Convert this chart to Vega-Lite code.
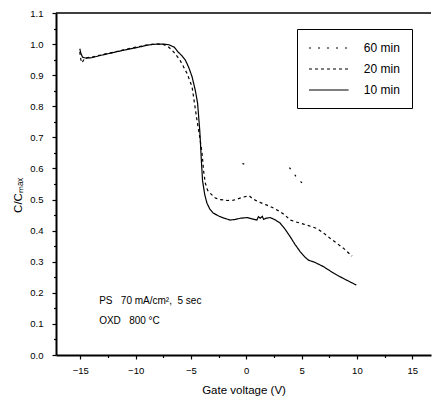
{
  "$schema": "https://vega.github.io/schema/vega-lite/v6.json",
  "width": 375,
  "height": 342,
  "autosize": {"type": "none"},
  "padding": {"left": 56, "top": 13, "right": 1, "bottom": 46},
  "background": "white",
  "config": {
    "view": {"stroke": null},
    "font": "Liberation Sans",
    "axis": {
      "domainColor": "black", "domainWidth": 2, "tickColor": "black", "tickWidth": 1.2,
      "labelColor": "black", "titleColor": "black", "labelFont": "Liberation Sans", "titleFont": "Liberation Sans",
      "labelFontSize": 9.5, "titleFontSize": 11.5, "titleFontWeight": "normal", "grid": false, "labelOverlap": false
    }
  },
  "resolve": {"axis": {"x": "independent", "y": "independent"}},
  "datasets": {
    "curves": [
      {"series": "10 min", "seg": "a", "V": -15.05, "C": 0.985},
      {"series": "10 min", "seg": "a", "V": -14.95, "C": 0.97},
      {"series": "10 min", "seg": "a", "V": -14.8, "C": 0.958},
      {"series": "10 min", "seg": "a", "V": -14.5, "C": 0.955},
      {"series": "10 min", "seg": "a", "V": -14.0, "C": 0.956},
      {"series": "10 min", "seg": "a", "V": -13.0, "C": 0.965},
      {"series": "10 min", "seg": "a", "V": -12.0, "C": 0.973},
      {"series": "10 min", "seg": "a", "V": -11.0, "C": 0.981},
      {"series": "10 min", "seg": "a", "V": -10.0, "C": 0.988},
      {"series": "10 min", "seg": "a", "V": -9.0, "C": 0.996},
      {"series": "10 min", "seg": "a", "V": -8.5, "C": 0.999},
      {"series": "10 min", "seg": "a", "V": -8.0, "C": 1.0},
      {"series": "10 min", "seg": "a", "V": -7.5, "C": 1.0},
      {"series": "10 min", "seg": "a", "V": -7.0, "C": 0.998},
      {"series": "10 min", "seg": "a", "V": -6.5, "C": 0.99},
      {"series": "10 min", "seg": "a", "V": -6.2, "C": 0.976},
      {"series": "10 min", "seg": "a", "V": -5.8, "C": 0.962},
      {"series": "10 min", "seg": "a", "V": -5.5, "C": 0.948},
      {"series": "10 min", "seg": "a", "V": -5.2, "C": 0.925},
      {"series": "10 min", "seg": "a", "V": -4.9, "C": 0.895},
      {"series": "10 min", "seg": "a", "V": -4.6, "C": 0.85},
      {"series": "10 min", "seg": "a", "V": -4.4, "C": 0.81},
      {"series": "10 min", "seg": "a", "V": -4.2, "C": 0.72},
      {"series": "10 min", "seg": "a", "V": -4.05, "C": 0.62},
      {"series": "10 min", "seg": "a", "V": -3.95, "C": 0.56},
      {"series": "10 min", "seg": "a", "V": -3.75, "C": 0.515},
      {"series": "10 min", "seg": "a", "V": -3.55, "C": 0.488},
      {"series": "10 min", "seg": "a", "V": -3.3, "C": 0.47},
      {"series": "10 min", "seg": "a", "V": -3.0, "C": 0.457},
      {"series": "10 min", "seg": "a", "V": -2.5, "C": 0.447},
      {"series": "10 min", "seg": "a", "V": -2.0, "C": 0.44},
      {"series": "10 min", "seg": "a", "V": -1.45, "C": 0.434},
      {"series": "10 min", "seg": "a", "V": -1.0, "C": 0.436},
      {"series": "10 min", "seg": "a", "V": -0.5, "C": 0.44},
      {"series": "10 min", "seg": "a", "V": 0.06, "C": 0.442},
      {"series": "10 min", "seg": "a", "V": 0.5, "C": 0.438},
      {"series": "10 min", "seg": "a", "V": 0.96, "C": 0.434},
      {"series": "10 min", "seg": "a", "V": 1.1, "C": 0.445},
      {"series": "10 min", "seg": "a", "V": 1.27, "C": 0.44},
      {"series": "10 min", "seg": "a", "V": 1.45, "C": 0.446},
      {"series": "10 min", "seg": "a", "V": 1.57, "C": 0.436},
      {"series": "10 min", "seg": "a", "V": 1.8, "C": 0.44},
      {"series": "10 min", "seg": "a", "V": 2.17, "C": 0.442},
      {"series": "10 min", "seg": "a", "V": 2.6, "C": 0.435},
      {"series": "10 min", "seg": "a", "V": 3.07, "C": 0.424},
      {"series": "10 min", "seg": "a", "V": 3.5, "C": 0.405},
      {"series": "10 min", "seg": "a", "V": 3.98, "C": 0.38},
      {"series": "10 min", "seg": "a", "V": 4.4, "C": 0.356},
      {"series": "10 min", "seg": "a", "V": 4.88, "C": 0.332},
      {"series": "10 min", "seg": "a", "V": 5.3, "C": 0.315},
      {"series": "10 min", "seg": "a", "V": 5.63, "C": 0.305},
      {"series": "10 min", "seg": "a", "V": 6.2, "C": 0.298},
      {"series": "10 min", "seg": "a", "V": 6.99, "C": 0.284},
      {"series": "10 min", "seg": "a", "V": 7.6, "C": 0.27},
      {"series": "10 min", "seg": "a", "V": 8.2, "C": 0.257},
      {"series": "10 min", "seg": "a", "V": 9.0, "C": 0.242},
      {"series": "10 min", "seg": "a", "V": 9.95, "C": 0.225},
      {"series": "20 min", "seg": "a", "V": -15.05, "C": 0.975},
      {"series": "20 min", "seg": "a", "V": -14.95, "C": 0.95},
      {"series": "20 min", "seg": "a", "V": -14.85, "C": 0.94},
      {"series": "20 min", "seg": "a", "V": -14.6, "C": 0.955},
      {"series": "20 min", "seg": "a", "V": -14.0, "C": 0.958},
      {"series": "20 min", "seg": "a", "V": -13.0, "C": 0.966},
      {"series": "20 min", "seg": "a", "V": -12.0, "C": 0.974},
      {"series": "20 min", "seg": "a", "V": -11.0, "C": 0.982},
      {"series": "20 min", "seg": "a", "V": -10.0, "C": 0.99},
      {"series": "20 min", "seg": "a", "V": -9.0, "C": 0.997},
      {"series": "20 min", "seg": "a", "V": -8.5, "C": 0.999},
      {"series": "20 min", "seg": "a", "V": -8.0, "C": 1.0},
      {"series": "20 min", "seg": "a", "V": -7.5, "C": 0.999},
      {"series": "20 min", "seg": "a", "V": -7.0, "C": 0.99},
      {"series": "20 min", "seg": "a", "V": -6.57, "C": 0.975},
      {"series": "20 min", "seg": "a", "V": -6.0, "C": 0.949},
      {"series": "20 min", "seg": "a", "V": -5.36, "C": 0.906},
      {"series": "20 min", "seg": "a", "V": -4.9, "C": 0.863},
      {"series": "20 min", "seg": "a", "V": -4.46, "C": 0.756},
      {"series": "20 min", "seg": "a", "V": -4.2, "C": 0.7},
      {"series": "20 min", "seg": "a", "V": -4.0, "C": 0.65},
      {"series": "20 min", "seg": "a", "V": -3.85, "C": 0.59},
      {"series": "20 min", "seg": "a", "V": -3.7, "C": 0.553},
      {"series": "20 min", "seg": "a", "V": -3.5, "C": 0.53},
      {"series": "20 min", "seg": "a", "V": -3.25, "C": 0.52},
      {"series": "20 min", "seg": "a", "V": -2.8, "C": 0.505},
      {"series": "20 min", "seg": "a", "V": -2.35, "C": 0.5},
      {"series": "20 min", "seg": "a", "V": -1.7, "C": 0.497},
      {"series": "20 min", "seg": "a", "V": -1.15, "C": 0.498},
      {"series": "20 min", "seg": "a", "V": -0.7, "C": 0.503},
      {"series": "20 min", "seg": "a", "V": -0.27, "C": 0.508},
      {"series": "20 min", "seg": "a", "V": 0.27, "C": 0.512},
      {"series": "20 min", "seg": "a", "V": 0.5, "C": 0.505},
      {"series": "20 min", "seg": "a", "V": 0.81, "C": 0.498},
      {"series": "20 min", "seg": "a", "V": 1.3, "C": 0.49},
      {"series": "20 min", "seg": "a", "V": 1.87, "C": 0.482},
      {"series": "20 min", "seg": "a", "V": 2.5, "C": 0.472},
      {"series": "20 min", "seg": "a", "V": 3.07, "C": 0.461},
      {"series": "20 min", "seg": "a", "V": 3.5, "C": 0.45},
      {"series": "20 min", "seg": "a", "V": 3.98, "C": 0.434},
      {"series": "20 min", "seg": "a", "V": 4.5, "C": 0.428},
      {"series": "20 min", "seg": "a", "V": 5.18, "C": 0.421},
      {"series": "20 min", "seg": "a", "V": 5.8, "C": 0.414},
      {"series": "20 min", "seg": "a", "V": 6.39, "C": 0.407},
      {"series": "20 min", "seg": "a", "V": 7.0, "C": 0.392},
      {"series": "20 min", "seg": "a", "V": 7.6, "C": 0.375},
      {"series": "20 min", "seg": "a", "V": 8.2, "C": 0.359},
      {"series": "20 min", "seg": "a", "V": 8.8, "C": 0.343},
      {"series": "20 min", "seg": "a", "V": 9.56, "C": 0.318},
      {"series": "60 min", "seg": "a", "V": -0.35, "C": 0.616},
      {"series": "60 min", "seg": "a", "V": 0.05, "C": 0.611},
      {"series": "60 min", "seg": "b", "V": 3.9, "C": 0.603},
      {"series": "60 min", "seg": "b", "V": 4.3, "C": 0.585},
      {"series": "60 min", "seg": "b", "V": 4.6, "C": 0.568},
      {"series": "60 min", "seg": "b", "V": 5.3, "C": 0.545}
    ],
    "notes": [
      {"V": -13.3, "C": 0.175, "label": "PS\u00a0\u00a0\u00a070 mA/cm², \u00a05 sec"},
      {"V": -13.3, "C": 0.11, "label": "OXD\u00a0\u00a0\u00a0800 °C"}
    ],
    "frame": [{"V": 0, "C": 1.1}]
  },
  "layer": [
    {
      "data": {"name": "curves"},
      "mark": {"type": "line", "color": "black", "strokeWidth": 1.2, "clip": true},
      "encoding": {
        "x": {
          "field": "V", "type": "quantitative",
          "scale": {"domain": [-17.2, 16.7], "nice": false, "zero": false},
          "axis": {
            "title": "Gate voltage (V)",
            "values": [-15, -10, -5, 0, 5, 10, 15],
            "tickSize": 4, "labelPadding": 6, "titlePadding": 10
          }
        },
        "y": {
          "field": "C", "type": "quantitative",
          "scale": {"domain": [0, 1.1], "nice": false},
          "axis": {
            "title": "C/Cₘₐₓ",
            "values": [0, 0.1, 0.2, 0.3, 0.4, 0.5, 0.6, 0.7, 0.8, 0.9, 1.0, 1.1],
            "format": ".1f", "tickSize": 4,
            "labelPadding": 9, "titleX": -33, "titleY": 182
          }
        },
        "strokeDash": {
          "field": "series", "type": "nominal",
          "scale": {"domain": ["60 min", "20 min", "10 min"], "range": [[2, 7], [3, 3], [1, 0]]},
          "legend": {
            "title": null, "orient": "none", "legendX": 241, "legendY": 16,
            "symbolType": "M-3.3,0H3.3", "symbolSize": 144, "symbolStrokeColor": "black", "symbolStrokeWidth": 1.2,
            "symbolOffset": 12.8, "labelOffset": 28,
            "labelFontSize": 12, "labelColor": "black", "labelFont": "Liberation Sans",
            "strokeColor": "black", "padding": 12, "rowPadding": 8
          }
        },
        "detail": {"field": "seg", "type": "nominal"}
      }
    },
    {
      "data": {"name": "notes"},
      "mark": {"type": "text", "align": "left", "baseline": "middle", "fontSize": 10, "font": "Liberation Sans", "color": "black"},
      "encoding": {
        "x": {"field": "V", "type": "quantitative", "axis": null},
        "y": {"field": "C", "type": "quantitative", "axis": null},
        "text": {"field": "label", "type": "nominal"}
      }
    },
    {
      "data": {"name": "frame"},
      "mark": {"type": "rule", "color": "black", "strokeWidth": 1.3},
      "encoding": {
        "y": {
          "field": "C", "type": "quantitative",
          "axis": {
            "orient": "left", "title": null, "labels": false, "domain": false, "tickSize": 2.5,
            "values": [0.05, 0.15, 0.25, 0.35, 0.45, 0.55, 0.65, 0.75, 0.85, 0.95, 1.05]
          }
        }
      }
    },
    {
      "data": {"name": "frame"},
      "mark": {"type": "point", "opacity": 0},
      "encoding": {
        "x": {
          "field": "V", "type": "quantitative",
          "axis": {
            "orient": "bottom", "title": null, "labels": false, "domain": false, "tickSize": 2.5,
            "values": [-12.5, -7.5, -2.5, 2.5, 7.5, 12.5]
          }
        },
        "y": {"field": "C", "type": "quantitative", "axis": null}
      }
    }
  ]
}
